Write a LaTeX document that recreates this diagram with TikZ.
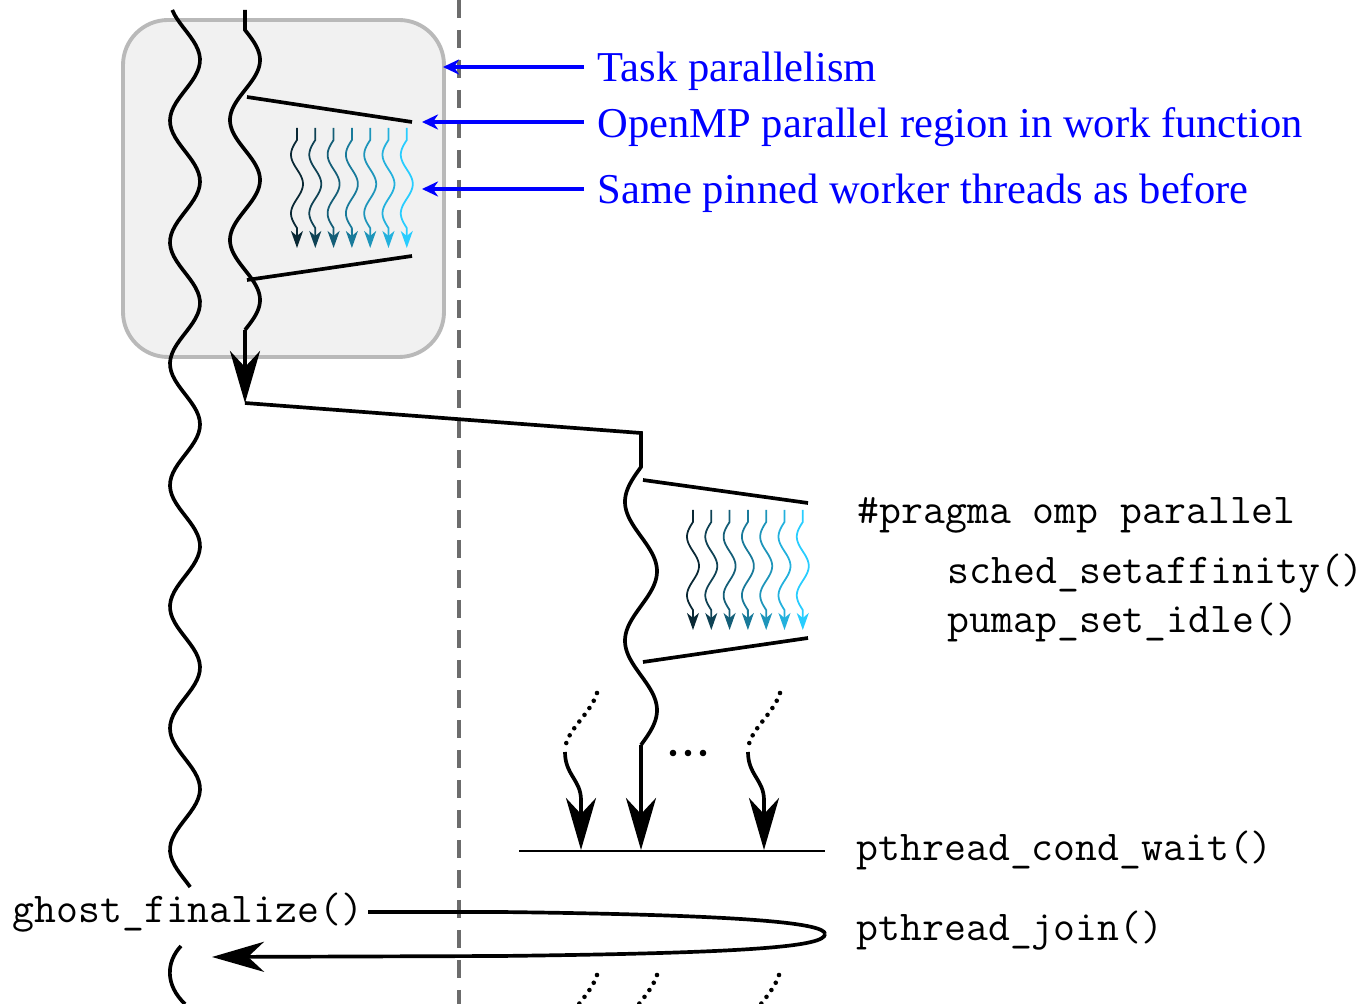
\documentclass[tikz,border=0pt]{standalone}
\usepackage{fontspec}
\setmainfont{Liberation Serif}
\usetikzlibrary{arrows.meta,positioning}

\definecolor{wdark}{RGB}{10,40,52}
\definecolor{wlight}{RGB}{40,205,255}
\definecolor{boxfill}{RGB}{241,241,241}
\definecolor{boxdraw}{RGB}{185,185,185}

\tikzset{
    thread/.style = {line width=1.05pt,
                    draw=black},
    fork/.style =   {line width=1.05pt,
                    draw=black},
    bigtip/.style = {-{Stealth[length=5.2mm,width=3mm,inset=1.6mm]}},
    worker/.style = {line width=0.5pt,
                    -{Stealth[length=1.7mm,width=1.2mm,inset=0.5mm]}},
    idle/.style =   {line width=1.3pt,
                    line cap=round,
                    dash pattern=on 0pt off 2.4pt},
    note/.style =   {text=blue,
                    font=\fontsize{12.1}{14}\selectfont,
                    inner sep=0pt,
                    anchor=base west},
    pointer/.style ={draw=blue,
                    line width=1.2pt,
                    -{Stealth[length=1.6mm,width=1.5mm,inset=0.5mm]}},
    code/.style =   {font=\ttfamily\fontsize{12.1}{14}\selectfont,
                    inner sep=0pt,
                    anchor=base west},
    taskbox/.style ={rectangle,
                    rounded corners=4.5mm,
                    fill=boxfill,
                    draw=boxdraw,
                    line width=1.1pt},
    workers/.pic =  {
        \foreach \i in {0,...,6} {
            \pgfmathtruncatemacro\p{\i*100/6}
            \colorlet{wk}{wlight!\p!wdark}
            \draw[worker,wk] (\i*18.3,0) -- (\i*18.3,12)
                -- plot[variable=\t,domain=12:100,samples=40] ({\i*18.3-6*sin((\t-12)*6.133)},\t)
                -- (\i*18.3,120);
        }
    }
}

\begin{document}
\begin{tikzpicture}[x=0.1mm,y=-0.1mm]
    \clip (0,0) rectangle (1369,1004);

    \node[taskbox,minimum width=32.1mm,minimum height=33.7mm] (task) at (283.5,188.5) {};
    \draw[gray!85!black,line width=1.05pt,dash pattern=on 1.8mm off 1.2mm] (459,0) -- (459,1004);

    % main thread and its task
    \draw[thread] plot[domain=10:887,samples=200] ({185+15*cos((\x-60)*2.963)},\x);
    \draw[thread] (181,946) .. controls (166,962) and (165,985) .. (185,1004);

    \coordinate (t0) at (245,10);
    \coordinate (t1) at (245,330);
    \coordinate (t2) at (245,403);
    \coordinate (f0) at (641,433);
    \coordinate (f1) at (641,467);
    \coordinate (f2) at (641,745);
    \coordinate (f3) at (641,850);
    \draw[thread] (t0) -- (245,30)
        -- plot[domain=30:330,samples=120] ({245+15*sin((\x-30)*3)},\x);
    \draw[thread,bigtip] (t1) -- (t2);
    \draw[thread] (t2) -- (f0) -- (f1)
        -- plot[domain=467:745,samples=120] ({641-16*sin((\x-467)*2.59)},\x);
    \draw[thread,bigtip] (f2) -- (f3);

    % parallel regions
    \coordinate (ra) at (247,97);
    \coordinate (rb) at (412,122);
    \coordinate (rc) at (247,280);
    \coordinate (rd) at (412,256);
    \draw[fork] (ra) -- (rb);
    \draw[fork] (rc) -- (rd);
    \pic at (297,128) {workers};

    \coordinate (sa) at (643,480);
    \coordinate (sb) at (808,503);
    \coordinate (sc) at (643,662);
    \coordinate (sd) at (808,638);
    \draw[fork] (sa) -- (sb);
    \draw[fork] (sc) -- (sd);
    \pic at (693,510) {workers};

    % other pool threads
    \foreach \dx in {0,183} {
        \draw[idle] (597+\dx,693) .. controls (590+\dx,715) and (566+\dx,730) .. (565+\dx,750);
        \draw[thread] (565+\dx,752) .. controls (565+\dx,775) and (581+\dx,780) .. (581+\dx,800);
        \draw[thread,bigtip] (581+\dx,798) -- (581+\dx,850);
    }
    \foreach \dx in {-15,0,15}
        \fill (688+\dx,753) circle (3.3);
    \foreach \dx in {0,60,182}
        \draw[idle] (597+\dx,975) .. controls (590+\dx,997) and (566+\dx,1012) .. (565+\dx,1032);

    \coordinate (w0) at (519,851);
    \coordinate (w1) at (825,851);
    \draw[line width=0.7pt] (w0) -- (w1);

    % labels
    \node[note] (tp) at (597,82) {Task parallelism};
    \node[note] (omp) at (597,138) {OpenMP parallel region in work function};
    \node[note] (same) at (597,204) {Same pinned worker threads as before};
    \coordinate (tpend) at (443,67);
    \coordinate (ompend) at (422,122);
    \coordinate (sameend) at (422,189);
    \draw[pointer] (584,67) -- (tpend);
    \draw[pointer] (584,122) -- (ompend);
    \draw[pointer] (584,189) -- (sameend);

    \node[code] (pragma) at (857,524) {\#pragma omp parallel};
    \node[code] (affin) at (947,584) {sched\_setaffinity()};
    \node[code] (idle) at (947,633) {pumap\_set\_idle()};
    \node[code] (cond) at (856,861) {pthread\_cond\_wait()};
    \node[code] (join) at (856,941) {pthread\_join()};
    \node[code] (fin) at (12,923) {ghost\_finalize()};

    % join loop back to the main thread
    \coordinate (j0) at (368,912);
    \coordinate (j1) at (825,934);
    \coordinate (j2) at (212,957);
    \draw[thread] (j0) -- (500,912) .. controls (760,915) and (825,924) .. (j1);
    \draw[thread,bigtip] (j1) .. controls (825,946) and (760,953) .. (500,956) -- (j2);
\end{tikzpicture}
\end{document}
